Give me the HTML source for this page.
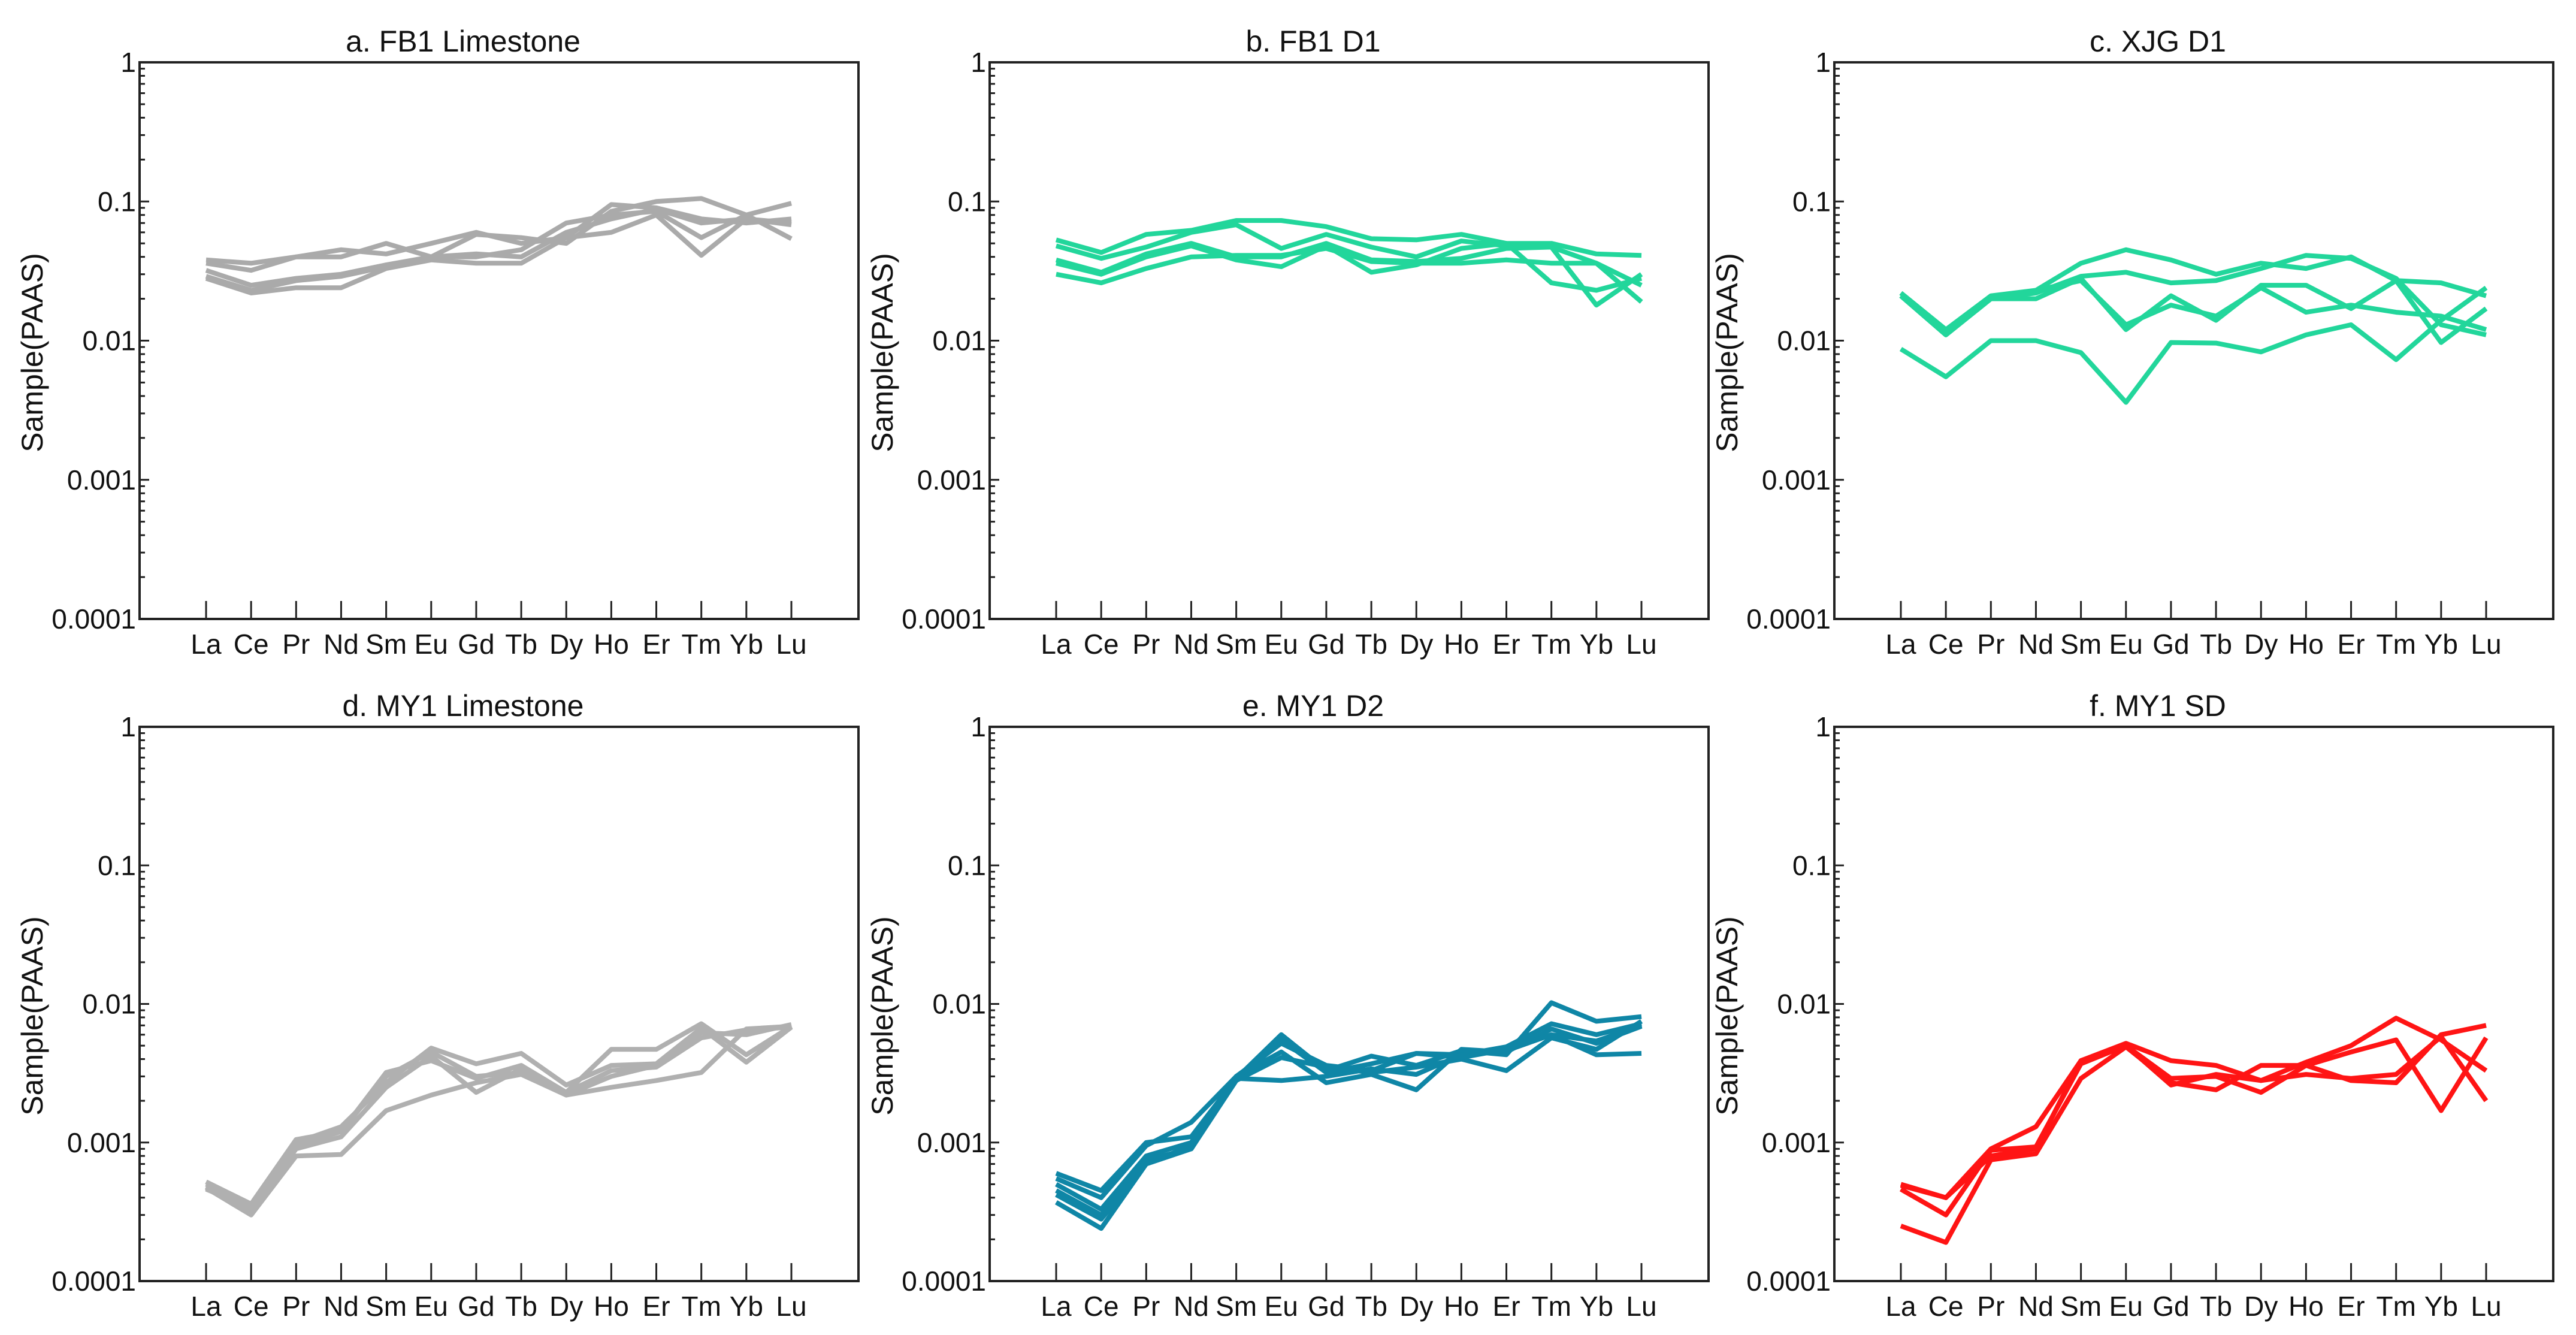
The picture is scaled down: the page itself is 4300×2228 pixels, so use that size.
<!DOCTYPE html>
<html><head><meta charset="utf-8"><style>
html,body{margin:0;padding:0;background:#fff;}
svg{display:block;font-family:"Liberation Sans",Arial,sans-serif;}
</style></head><body>
<svg id="chart" width="4300" height="2228" viewBox="0 0 4300 2228" xmlns="http://www.w3.org/2000/svg"></svg>
<script>
const categories = ["La","Ce","Pr","Nd","Sm","Eu","Gd","Tb","Dy","Ho","Er","Tm","Yb","Lu"];
const yTicks = [1,0.1,0.01,0.001,0.0001];
const yTickLabels = ["1","0.1","0.01","0.001","0.0001"];
const titles = ["a. FB1 Limestone","b. FB1 D1","c. XJG D1","d. MY1 Limestone","e. MY1 D2","f. MY1 SD"];
const colors = ["#aaaaaa","#22d69b","#22d69b","#b0b0b0","#0f86a6","#ff1414"];
const seriesA = [
 [.038,.036,.04,.045,.042,.05,.06,.05,.055,.095,.09,.075,.07,.075],
 [.036,.032,.04,.04,.05,.04,.058,.055,.05,.085,.1,.105,.08,.054],
 [.032,.025,.028,.03,.035,.04,.04,.045,.07,.08,.085,.055,.08,.097],
 [.029,.023,.027,.029,.034,.04,.042,.04,.06,.075,.088,.07,.075,.068],
 [.028,.022,.024,.024,.033,.038,.036,.036,.055,.06,.08,.041,.075,.07]];
const seriesB = [
 [.053,.043,.058,.062,.073,.073,.066,.054,.053,.058,.05,.05,.042,.041],
 [.048,.039,.047,.06,.068,.046,.058,.047,.04,.052,.048,.047,.036,.025],
 [.038,.031,.042,.05,.04,.04,.05,.038,.037,.039,.046,.047,.018,.03],
 [.036,.03,.04,.048,.038,.034,.048,.031,.035,.046,.05,.026,.023,.028],
 [.030,.026,.033,.04,.041,.041,.046,.037,.036,.036,.038,.036,.036,.019]];
const seriesC = [
 [.022,.012,.021,.023,.036,.045,.038,.03,.036,.033,.04,.027,.026,.021],
 [.021,.011,.02,.022,.029,.031,.026,.027,.033,.041,.039,.028,.013,.011],
 [.022,.012,.02,.02,.028,.012,.021,.014,.025,.025,.017,.027,.0097,.017],
 [.021,.011,.02,.023,.027,.013,.018,.015,.024,.016,.018,.016,.015,.012],
 [.0087,.0055,.01,.01,.0082,.0036,.0097,.0096,.0083,.011,.013,.0073,.014,.024]];
const seriesD = [
 [.00052,.00036,.00105,.0012,.0032,.0039,.0029,.0036,.0023,.0047,.0047,.0072,.0043,.0069],
 [.0005,.00035,.001,.0013,.0027,.0048,.0037,.0044,.0026,.0036,.0037,.0067,.0038,.0068],
 [.00048,.00032,.0009,.0011,.0025,.0042,.0023,.0034,.0023,.0033,.0035,.0057,.0065,.0068],
 [.00047,.0003,.0008,.00082,.0017,.0022,.0027,.0031,.0022,.0025,.0028,.0032,.0066,.0069],
 [.00046,.00034,.00095,.0012,.003,.0045,.003,.0032,.0022,.003,.0036,.0062,.006,.0071]];
const seriesE = [
 [.0006,.00045,.001,.0011,.0029,.006,.0033,.0042,.0036,.0046,.0043,.0102,.0075,.0081],
 [.00055,.0004,.00095,.0014,.003,.0052,.0036,.0033,.0044,.0043,.0049,.0072,.006,.0072],
 [.0005,.00033,.0008,.001,.003,.0045,.0027,.0031,.0024,.0047,.0045,.0066,.0052,.0069],
 [.00045,.0003,.00075,.0009,.0029,.0028,.003,.0034,.0031,.0043,.0046,.006,.0043,.0044],
 [.00042,.00028,.0007,.0009,.0028,.0041,.0035,.0032,.0035,.0040,.0033,.0057,.0047,.0075],
 [.00037,.00024,.0007,.00095,.0029,.0055,.0032,.0037,.0044,.0041,.0047,.006,.0054,.007]];
const seriesF = [
 [.0005,.0004,.0009,.0013,.0039,.0052,.0039,.0036,.0028,.0038,.005,.0079,.0055,.0033],
 [.00046,.0003,.00088,.00093,.0037,.005,.0029,.003,.0023,.0036,.0045,.0055,.0017,.0057],
 [.00025,.00019,.00075,.00083,.0029,.0049,.0027,.0024,.0036,.0036,.0028,.0027,.006,.007],
 [.00049,.0004,.0008,.0009,.0039,.005,.0026,.0031,.0028,.0031,.0029,.0031,.0058,.002]];
const allSeries = [seriesA,seriesB,seriesC,seriesD,seriesE,seriesF];

const NS = "http://www.w3.org/2000/svg";
const svg = document.getElementById("chart");
function mk(tag, attrs, parent){const e=document.createElementNS(NS,tag);for(const k in attrs)e.setAttribute(k,attrs[k]);(parent||svg).appendChild(e);return e;}
const colX=[233,1652,3062], rowY=[[104,1033],[1213,2138]], W=1200;
const panelNames=["a","b","c","d","e","f"];
for(let p=0;p<6;p++){
  const x0=colX[p%3], y0=rowY[Math.floor(p/3)][0], y1=rowY[Math.floor(p/3)][1];
  const g=mk("g",{});
  
  
  const yScale=v=>y0+(0-Math.log10(v))/4*(y1-y0);
  const xScale=i=>x0+111+i*(1088-111)/13;
  // series
  allSeries[p].forEach((s,si)=>{
    const d=s.map((v,i)=>(i?"L":"M")+xScale(i).toFixed(1)+" "+yScale(v).toFixed(1)).join(" ");
    const pl=mk("path",{d:d,fill:"none",stroke:colors[p],"stroke-width":8,"stroke-linejoin":"round"},g);
    
    
  });
  // frame
  const fr=mk("rect",{x:x0,y:y0,width:W,height:y1-y0,fill:"none",stroke:"#222","stroke-width":4},g);
  
  
  // y ticks
  yTicks.forEach((t,ti)=>{
    const y=yScale(t);
    mk("line",{x1:x0,x2:x0+16,y1:y,y2:y,stroke:"#222","stroke-width":3},g);
    const tl=mk("text",{x:x0-6,y:y+16,"text-anchor":"end","font-size":46,fill:"#111"},g);
    tl.textContent=yTickLabels[ti];
    
    
    if(ti<4){for(let m=2;m<=9;m++){const ym=yScale(t/10*m);mk("line",{x1:x0,x2:x0+9,y1:ym,y2:ym,stroke:"#222","stroke-width":3},g);}}
  });
  // x ticks
  categories.forEach((c,i)=>{
    const x=xScale(i);
    mk("line",{x1:x,x2:x,y1:y1,y2:y1-30,stroke:"#222","stroke-width":3},g);
    const tl=mk("text",{x:x,y:y1+58,"text-anchor":"middle","font-size":46,fill:"#111"},g);
    tl.textContent=c;
    
    
  });
  const tt=mk("text",{x:x0+W/2-60,y:y0-18,"text-anchor":"middle","font-size":50,fill:"#111"},g);
  tt.textContent=titles[p];
  
  
  const cy=(y0+y1)/2+20;
  const yt=mk("text",{x:x0-162,y:cy,"text-anchor":"middle","font-size":50,fill:"#111",transform:"rotate(-90 "+(x0-162)+" "+cy+")"},g);
  yt.textContent="Sample(PAAS)";
  
  
}
</script>
</body></html>
